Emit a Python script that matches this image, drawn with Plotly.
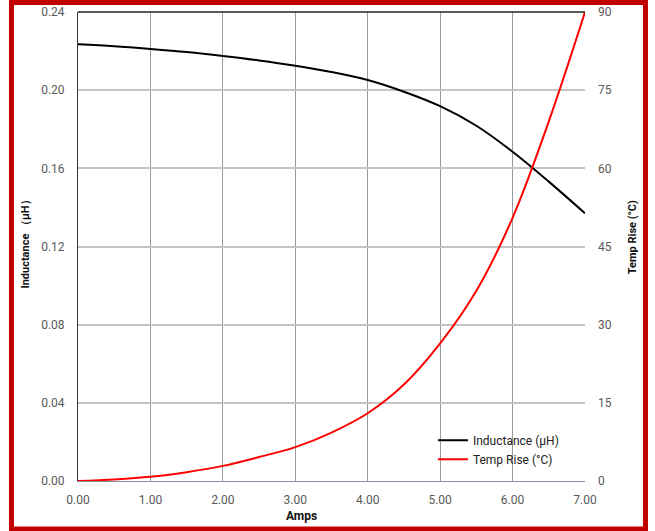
import plotly.graph_objects as go

# Current (A) sample points
amps = [0.0, 0.5, 1.0, 1.5, 2.0, 2.5, 3.0, 3.5, 4.0, 4.5, 5.0, 5.5, 6.0, 6.5, 7.0]
# Inductance (µH) vs current
inductance = [0.2235, 0.2225, 0.2211, 0.2195, 0.2175, 0.2152, 0.2125, 0.2093,
              0.2052, 0.1992, 0.1918, 0.1818, 0.1685, 0.1532, 0.1370]
# Temperature rise (°C) vs current
temp_rise = [0.0, 0.3, 0.8, 1.7, 2.9, 4.6, 6.5, 9.3, 13.0, 18.5, 26.4, 36.5,
             50.5, 69.0, 90.0]

x_ticks = [0, 1, 2, 3, 4, 5, 6, 7]
x_tick_text = ["0.00", "1.00", "2.00", "3.00", "4.00", "5.00", "6.00", "7.00"]
y_ticks = [0.0, 0.04, 0.08, 0.12, 0.16, 0.20, 0.24]
y_tick_text = ["0.00", "0.04", "0.08", "0.12", "0.16", "0.20", "0.24"]
y2_ticks = [0, 15, 30, 45, 60, 75, 90]

TICK_FONT = dict(family="Roboto", size=12, color="#595959")

fig = go.Figure()
fig.add_trace(go.Scatter(
    x=amps, y=inductance, name="Inductance (µH)", mode="lines",
    line=dict(color="#000000", width=2, shape="spline"), yaxis="y"))
fig.add_trace(go.Scatter(
    x=amps, y=temp_rise, name="Temp Rise (°C)", mode="lines",
    line=dict(color="#ff0000", width=2, shape="spline"), yaxis="y2"))

fig.update_layout(
    width=655, height=531,
    margin=dict(l=78, r=70, t=12, b=50, autoexpand=False),
    paper_bgcolor="white", plot_bgcolor="white",
    showlegend=True,
    legend=dict(x=0.70, y=0.118, xanchor="left", yanchor="top",
                bgcolor="rgba(0,0,0,0)", font=dict(family="Roboto", size=12, color="#222"),
                itemwidth=30, tracegroupgap=0),
    xaxis=dict(range=[0, 7], tickvals=x_ticks, ticktext=x_tick_text,
               showgrid=True, gridcolor="#9a9a9a", gridwidth=1,
               zeroline=False, showline=True, linecolor="#8090a0", linewidth=1,
               ticks="", tickfont=TICK_FONT, ticklabelstandoff=8, automargin=False),
    yaxis=dict(range=[0, 0.24], tickvals=y_ticks, ticktext=y_tick_text,
               showgrid=True, gridcolor="#c4c4c4", gridwidth=1.5,
               zeroline=False, showline=True, linecolor="#333333", linewidth=1,
               ticks="", tickfont=TICK_FONT, ticklabelstandoff=10, automargin=False),
    yaxis2=dict(range=[0, 90], tickvals=y2_ticks, overlaying="y", side="right",
                showgrid=False, zeroline=False, showline=False,
                ticks="", tickfont=TICK_FONT, ticklabelstandoff=12, automargin=False),
    shapes=[
        # top frame line of the plot area
        dict(type="line", xref="paper", yref="paper", x0=0, x1=1, y0=1, y1=1,
             line=dict(color="#222222", width=1.5)),
        # red outer border
        dict(type="rect", xref="paper", yref="paper",
             x0=-0.1312, x1=1.1193, y0=-0.1023, y1=1.0203,
             line=dict(color="#c00000", width=5), layer="above"),
    ],
    annotations=[
        dict(text="<b>Amps</b>", xref="paper", yref="paper", x=0.44, y=-0.074,
             showarrow=False, font=dict(family="Roboto", size=12, color="#111"),
             xanchor="center", yanchor="middle"),
        dict(text="<b>Inductance （µH）</b>", xref="paper", yref="paper",
             x=-0.103, y=0.51, textangle=-90, showarrow=False,
             font=dict(family="Roboto", size=11, color="#111"),
             xanchor="center", yanchor="middle"),
        dict(text="<b>Temp Rise (°C)</b>", xref="paper", yref="paper",
             x=1.093, y=0.52, textangle=-90, showarrow=False,
             font=dict(family="Roboto", size=11, color="#111"),
             xanchor="center", yanchor="middle"),
    ],
)

fig.write_html("out.html")
